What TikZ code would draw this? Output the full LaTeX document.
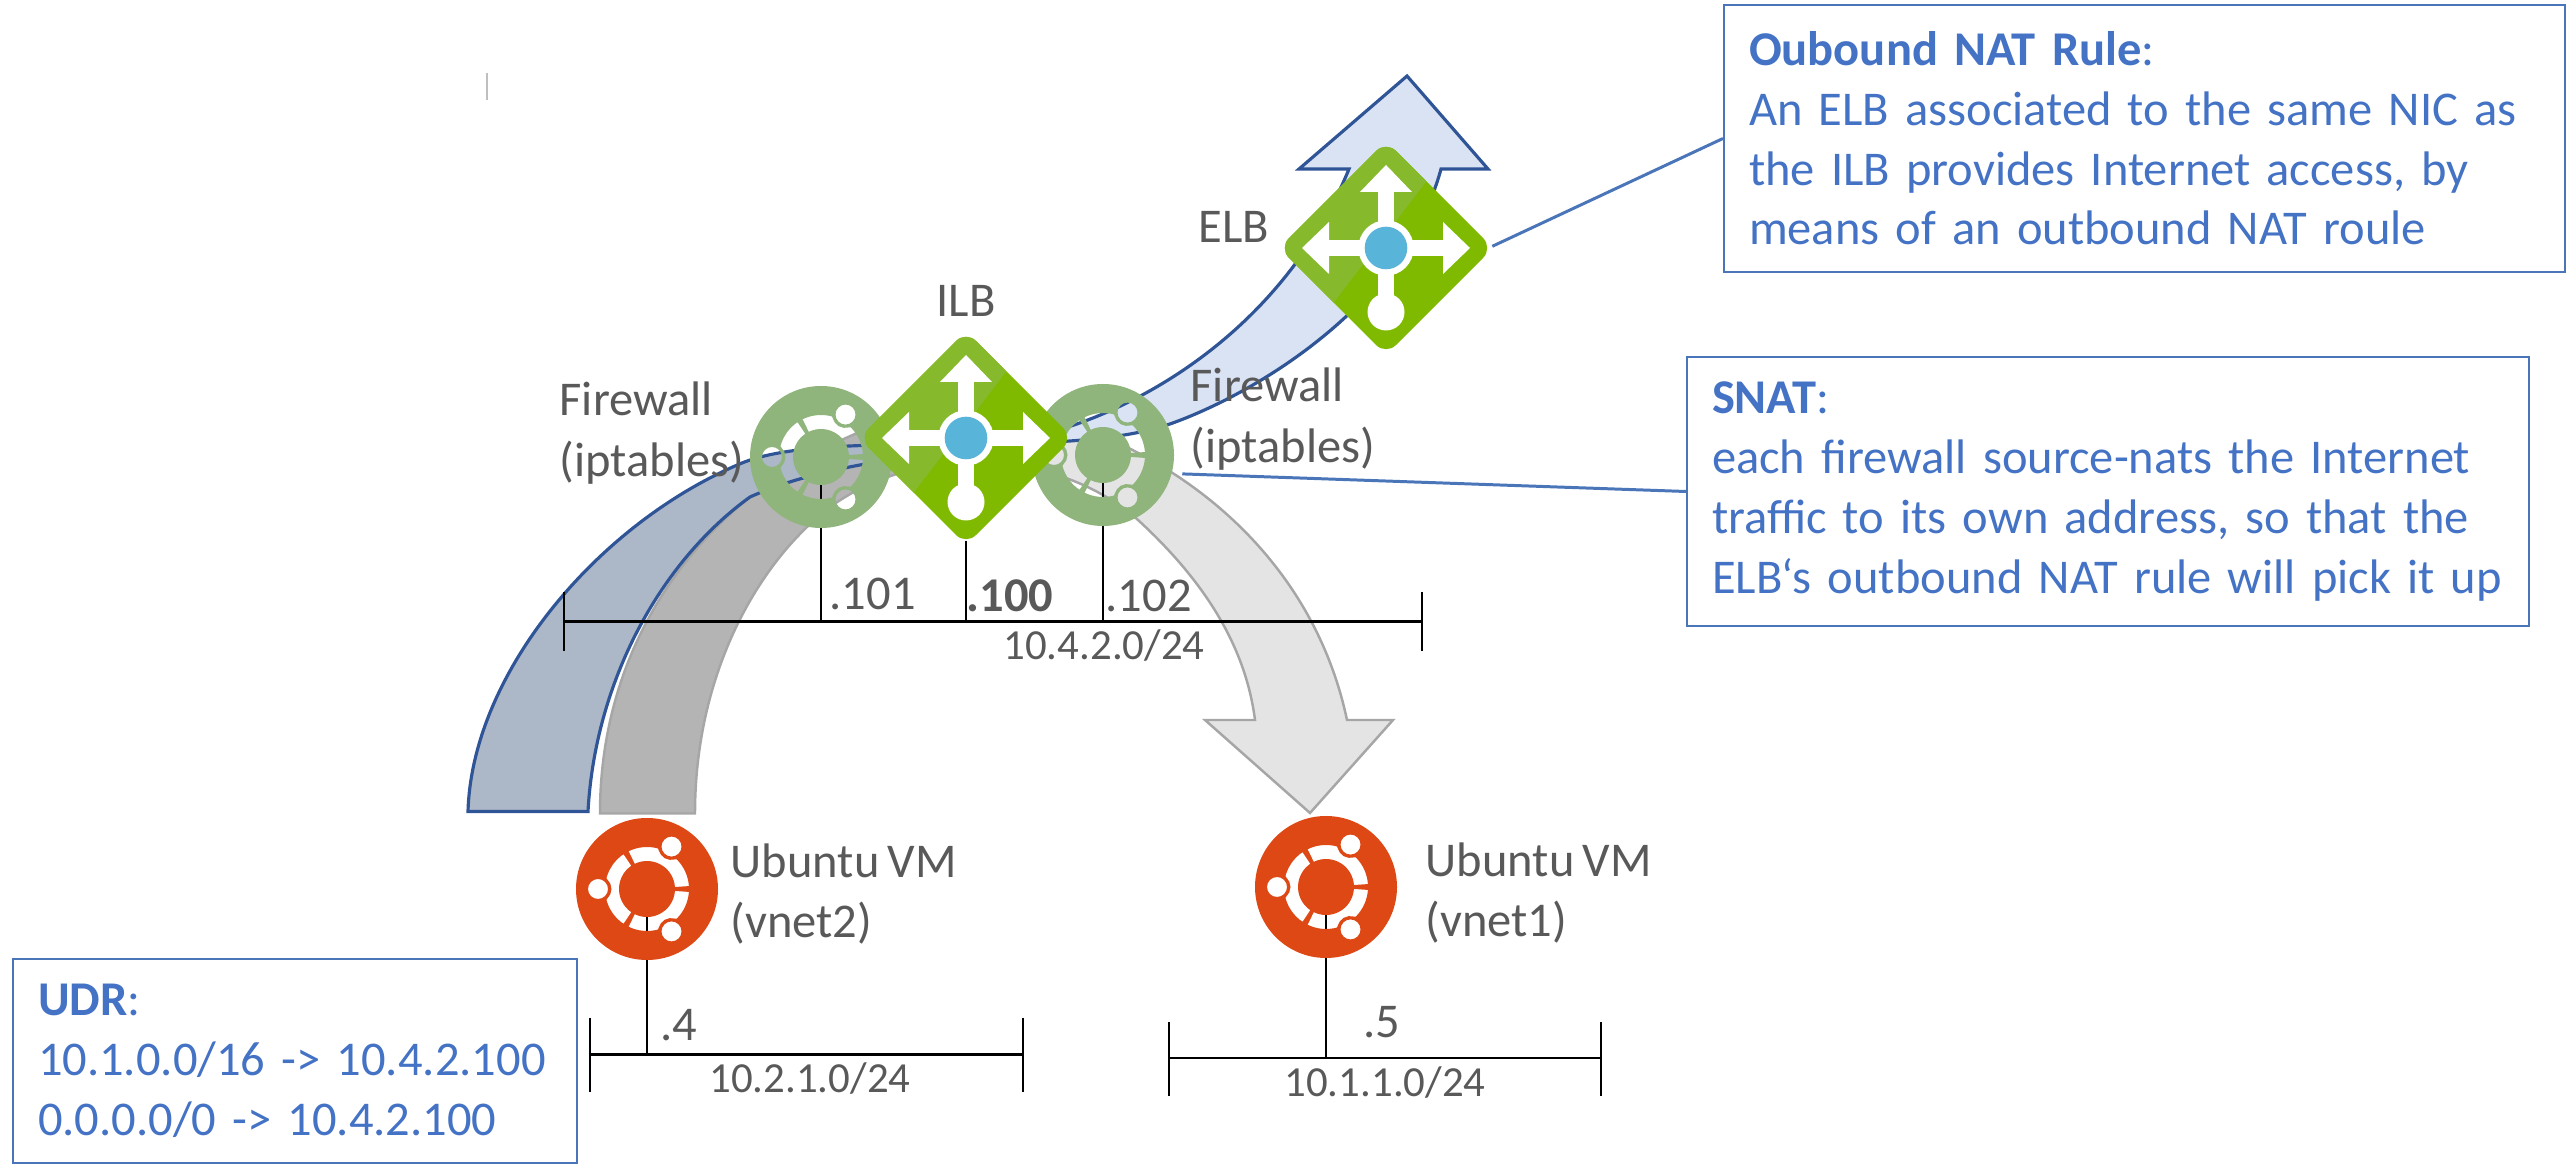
\documentclass[tikz,border=0pt]{standalone}
\usepackage{fontspec}
\setmainfont{Carlito}[WordSpace=0.75]
\usepackage{xcolor}
\usetikzlibrary{shapes.geometric}
\definecolor{labelgray}{HTML}{595959}
\definecolor{noteblue}{HTML}{4472C4}
\definecolor{noteedge}{HTML}{4A75B8}
\definecolor{flowedge}{HTML}{2F5597}
\definecolor{flowlight}{HTML}{D9E3F3}
\definecolor{flowdark}{HTML}{ACB7C8}
\definecolor{backedge}{HTML}{A6A6A6}
\definecolor{backlight}{HTML}{E5E4E4}
\definecolor{backdark}{HTML}{B5B4B4}
\definecolor{fwgreen}{HTML}{8FB47C}
\definecolor{vmorange}{HTML}{DD4814}
\definecolor{lbgreen}{HTML}{7FBA00}
\definecolor{lblight}{HTML}{86B92C}
\definecolor{lbblue}{HTML}{59B4D9}

\tikzset{
  vmspot/.style={circle, minimum size=1.42cm, inner sep=0pt},
  lbspot/.style={diamond, minimum width=2.04cm, minimum height=2.04cm, inner sep=0pt},
  lbltext/.style={font=\fontsize{13.8}{17.2}\selectfont, text=labelgray, inner sep=0pt, align=left},
  nettext/.style={font=\fontsize{12.2}{14}\selectfont, text=labelgray, inner sep=0pt},
  notebox/.style={draw=noteedge, line width=0.6pt, font=\fontsize{13.8}{17}\selectfont, text=noteblue, align=left, inner xsep=0.25cm, inner ysep=0pt},
  busline/.style={black, line width=0.85pt},
  busdrop/.style={black, line width=0.5pt},
  leader/.style={noteedge, line width=0.85pt}
}

% disc with the ring and the three dots cut out, so the arrows show through
\newcommand{\ubuntulogo}[2]{%
  \begin{scope}[shift={(#1)}]
    \fill[#2, even odd rule] (0,0) circle (0.71)
      \foreach \a in {60,180,300} {
        ({\a-56}:0.28) -- ({\a-56}:0.42) arc[start angle=\a-56, end angle=\a-15, radius=0.42]
        -- ({\a-8}:0.37) -- (\a:0.355) -- ({\a+8}:0.37) -- ({\a+15}:0.42) arc[start angle=\a+15, end angle=\a+56, radius=0.42]
        -- ({\a+56}:0.28) arc[start angle=\a+56, end angle=\a-56, radius=0.28] -- cycle
        (\a:0.49) circle (0.10)
      };
  \end{scope}}

\newcommand{\lbicon}[1]{%
  \begin{scope}[shift={(#1)}]
    \fill[lbgreen, rounded corners=0.14cm] (-1.07,0) -- (0,1.07) -- (1.07,0) -- (0,-1.07) -- cycle;
    \begin{scope}
      \clip[rounded corners=0.14cm] (-1.07,0) -- (0,1.07) -- (1.07,0) -- (0,-1.07) -- cycle;
      \fill[lblight] (0.75,1.12) -- (-0.9,-1.04) -- (-1.2,1.2) -- cycle;
    \end{scope}
    \fill[white] (-0.083,-0.64) rectangle (0.083,0.6);
    \fill[white] (-0.6,-0.083) rectangle (0.6,0.083);
    \fill[white] (0,0.83) -- (0.26,0.56) -- (-0.26,0.56) -- cycle;
    \fill[white] (0.84,0) -- (0.57,0.26) -- (0.57,-0.26) -- cycle;
    \fill[white] (-0.84,0) -- (-0.57,0.26) -- (-0.57,-0.26) -- cycle;
    \fill[white] (0,-0.64) circle (0.185);
    \fill[white] (0,0) circle (0.277);
    \fill[lbblue] (0,0) circle (0.213);
  \end{scope}}

\newcommand{\outflow}{(4.68,3.605) .. controls (4.72,5.0) and (6.0,6.5) .. (7.42,7.09)
  .. controls (8.3,7.45) and (10.6,7.1) .. (11.70,7.48)
  .. controls (12.6,7.8) and (14.05,8.7) .. (14.41,10.03)
  -- (14.88,10.03) -- (14.07,10.96) -- (12.99,10.03) -- (13.49,10.03)
  .. controls (12.9,8.6) and (11.7,7.8) .. (10.74,7.47)
  .. controls (9.8,7.15) and (8.5,7.2) .. (7.5,6.75)
  .. controls (6.6,6.1) and (5.95,4.9) .. (5.88,3.605) -- cycle}
\newcommand{\backflow}{(6.0,3.585) .. controls (6.0,5.7) and (7.5,7.3) .. (9.6,7.7)
  .. controls (11.2,7.6) and (13.05,6.5) .. (13.47,4.52)
  -- (13.93,4.52) -- (13.10,3.59) -- (12.05,4.52) -- (12.55,4.52)
  .. controls (12.45,5.3) and (12.0,5.95) .. (11.38,6.52)
  .. controls (10.5,7.3) and (8.9,7.3) .. (8.06,6.44)
  .. controls (7.5,5.9) and (6.95,4.9) .. (6.95,3.585) -- cycle}

\begin{document}
\begin{tikzpicture}
  \useasboundingbox (0,0) rectangle (25.75,11.72);

  % spots first, everything hangs on these
  \node[vmspot] (fwleft) at (8.21,7.15) {};
  \node[vmspot] (fwright) at (11.03,7.17) {};
  \node[vmspot] (vmtwo) at (6.47,2.83) {};
  \node[vmspot] (vmone) at (13.26,2.85) {};
  \node[lbspot] (ilb) at (9.66,7.34) {};
  \node[lbspot] (elb) at (13.86,9.24) {};

  % flows
  \fill[backlight] \backflow;
  \begin{scope}
    \clip (0,0) rectangle (9.66,11.72);
    \fill[backdark] \backflow;
  \end{scope}
  \draw[backedge, line width=0.7pt] \backflow;
  \fill[flowlight] \outflow;
  \begin{scope}
    \clip (0,0) rectangle (9.66,11.72);
    \fill[flowdark] \outflow;
  \end{scope}
  \draw[flowedge, line width=0.9pt] \outflow;

  % subnets
  \coordinate (hubl) at (5.64,5.50);
  \coordinate (hubr) at (14.22,5.50);
  \coordinate (twol) at (5.90,1.175);
  \coordinate (twor) at (10.23,1.175);
  \coordinate (onel) at (11.69,1.14);
  \coordinate (oner) at (16.01,1.14);
  \draw[busline] (hubl) -- (hubr);
  \draw[busline] (twol) -- (twor);
  \draw[busline] (onel) -- (oner);
  \draw[busdrop] ([yshift=0.30cm]hubl) -- ([yshift=-0.29cm]hubl);
  \draw[busdrop] ([yshift=0.30cm]hubr) -- ([yshift=-0.29cm]hubr);
  \draw[busdrop] ([yshift=0.365cm]twol) -- ([yshift=-0.375cm]twol);
  \draw[busdrop] ([yshift=0.365cm]twor) -- ([yshift=-0.375cm]twor);
  \draw[busdrop] ([yshift=0.36cm]onel) -- ([yshift=-0.38cm]onel);
  \draw[busdrop] ([yshift=0.36cm]oner) -- ([yshift=-0.38cm]oner);
  \draw[busdrop] (fwleft.center) -- (fwleft.center |- hubl);
  \draw[busdrop] (ilb.south) -- (ilb.south |- hubl);
  \draw[busdrop] (fwright.center) -- (fwright.center |- hubl);
  \draw[busdrop] (vmtwo.center) -- (vmtwo.center |- twol);
  \draw[busdrop] (vmone.center) -- (vmone.center |- onel);

  % icons
  \ubuntulogo{fwleft}{fwgreen}
  \ubuntulogo{fwright}{fwgreen}
  \ubuntulogo{vmtwo}{vmorange}
  \ubuntulogo{vmone}{vmorange}
  \lbicon{ilb}
  \lbicon{elb}

  \draw[lightgray, line width=0.6pt] (4.87,10.99) -- (4.87,10.72);

  % labels
  \node[lbltext, anchor=west] (fwleftlbl) at (5.59,7.39) {Firewall\\(iptables)};
  \node[lbltext, anchor=west] (fwrightlbl) at (11.90,7.53) {Firewall\\(iptables)};
  \node[lbltext, anchor=west] (vmtwolbl) at (7.30,2.78) {Ubuntu VM\\(vnet2)};
  \node[lbltext, anchor=west] (vmonelbl) at (14.25,2.79) {Ubuntu VM\\(vnet1)};
  \node[lbltext, anchor=base west] (elblbl) at (11.98,9.29) {ELB};
  \node[lbltext, anchor=base] (ilblbl) at (9.66,8.55) {ILB};
  \node[lbltext, anchor=base west] (ipfwl) at (8.29,5.62) {.101};
  \node[lbltext, anchor=base west] (ipilb) at (9.66,5.60) {\textbf{.100}};
  \node[lbltext, anchor=base west] (ipfwr) at (11.05,5.60) {.102};
  \node[lbltext, anchor=base west] (ipvmtwo) at (6.60,1.31) {.4};
  \node[lbltext, anchor=base west] (ipvmone) at (13.63,1.34) {.5};
  \node[nettext, anchor=base] (nethub) at (11.04,5.12) {10.4.2.0/24};
  \node[nettext, anchor=base] (nettwo) at (8.10,0.79) {10.2.1.0/24};
  \node[nettext, anchor=base] (netone) at (13.85,0.75) {10.1.1.0/24};

  % notes
  \node[notebox, text width=7.91cm, minimum height=2.67cm] (noteout) at (21.445,10.335) {\textbf{Oubound NAT Rule}:\\An ELB associated to the same NIC as\\the ILB provides Internet access, by\\means of an outbound NAT roule};
  \node[notebox, text width=7.92cm, minimum height=2.69cm] (notesnat) at (21.08,6.805) {\textbf{SNAT}:\\each firewall source-nats the Internet\\traffic to its own address, so that the\\ELB‘s outbound NAT rule will pick it up};
  \node[notebox, text width=5.14cm, minimum height=2.04cm] (noteudr) at (2.95,1.11) {\textbf{UDR}:\\10.1.0.0/16 -> 10.4.2.100\\0.0.0.0/0 -> 10.4.2.100};
  \draw[leader, shorten <=0.04cm] (elb.east) -- (noteout.west);
  \draw[leader, shorten <=0.10cm] (fwright.-15) -- (notesnat.west);
\end{tikzpicture}
\end{document}
